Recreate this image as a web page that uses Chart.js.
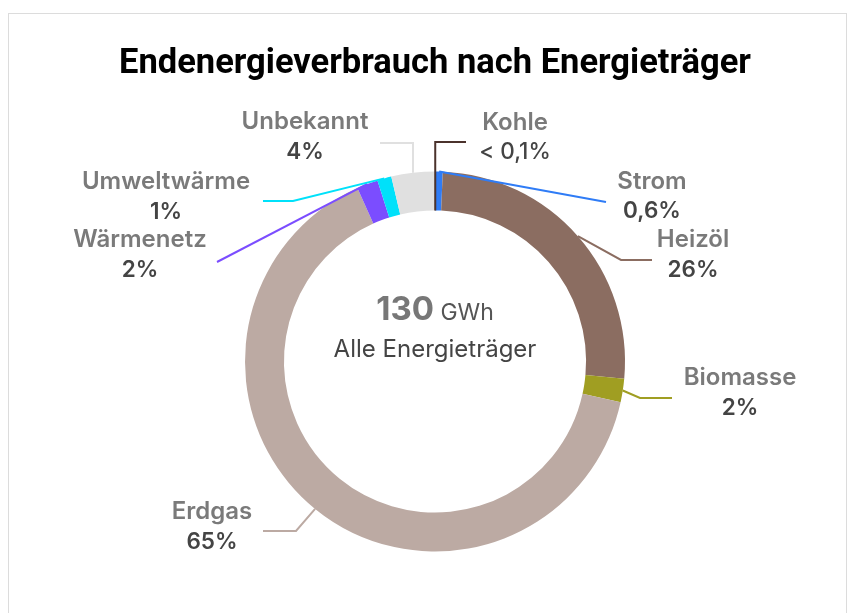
<!DOCTYPE html>
<html lang="de">
<head>
<meta charset="UTF-8">
<title>Endenergieverbrauch nach Energieträger</title>
<script src="https://cdn.jsdelivr.net/npm/chart.js@4"></script>
<style>
  body { margin: 0; background: #fff; }
  .frame { position: absolute; left: 8px; top: 13px; width: 837px; height: 700px; border: 1px solid #dcdcdc; }
  .wrap { position: absolute; left: 0; top: 0; width: 854px; height: 613px; }
</style>
</head>
<body>
<div class="frame"></div>
<div class="wrap"><canvas id="chart"></canvas></div>
<script>
// Data
const categories = ['Kohle', 'Strom', 'Heizöl', 'Biomasse', 'Erdgas', 'Wärmenetz', 'Umweltwärme', 'Unbekannt'];
const shares = [0.05, 0.6, 25.8, 2.0, 64.9, 1.8, 1.2, 3.7];
const shareLabels = ['< 0,1%', '0,6%', '26%', '2%', '65%', '2%', '1%', '4%'];
const totalValue = '130';
const totalUnit = 'GWh';
const totalCaption = 'Alle Energieträger';

const colors = ['#4b322c', '#2f7cf6', '#8b6d61', '#a09e22', '#bcaaa3', '#7b4dff', '#00e1fa', '#e0e0e0'];

// label layout, offsets from the doughnut centre (px)
// vert: leader goes straight up first, elbow: bend point, end: end of leader, text: centre of name line
const labelLayout = [
  { from: 'inner', vert: true, end: [31, -219.5], text: [80, -239] },
  { end: [171, -159.5], text: [217, -180] },
  { elbow: [186, -101.5], end: [217, -101.5], text: [258, -121.5] },
  { elbow: [205, 36.5], end: [237, 36.5], text: [305, 16.5] },
  { elbow: [-139, 169.5], end: [-172, 169.5], text: [-223, 150.5] },
  { end: [-218, -99.5], text: [-295, -121.5] },
  { elbow: [-142, -160.5], end: [-172, -160.5], text: [-269, -179.5] },
  { vert: true, end: [-55, -218.5], text: [-130, -239.5] }
];

const labelPlugin = {
  id: 'labels',
  afterDraw(chart) {
    const ctx = chart.ctx;
    const meta = chart.getDatasetMeta(0);
    ctx.save();
    meta.data.forEach((arc, i) => {
      const p = arc.getProps(['x', 'y', 'startAngle', 'endAngle', 'innerRadius', 'outerRadius'], true);
      const lay = labelLayout[i];
      const mid = (p.startAngle + p.endAngle) / 2;
      const r = lay.from === 'inner' ? p.innerRadius : p.outerRadius;
      const sx = p.x + Math.cos(mid) * r;
      const sy = p.y + Math.sin(mid) * r;
      const ex = p.x + lay.end[0], ey = p.y + lay.end[1];
      ctx.beginPath();
      ctx.strokeStyle = colors[i];
      ctx.lineWidth = 2;
      ctx.moveTo(sx, sy);
      if (lay.vert) ctx.lineTo(sx, ey);
      else if (lay.elbow) ctx.lineTo(p.x + lay.elbow[0], p.y + lay.elbow[1]);
      ctx.lineTo(ex, ey);
      ctx.stroke();

      const tx = p.x + lay.text[0], ty = p.y + lay.text[1];
      ctx.textAlign = 'center';
      ctx.textBaseline = 'middle';
      ctx.font = '600 24px Inter';
      ctx.fillStyle = '#7a7a7a';
      ctx.fillText(categories[i], tx, ty);
      ctx.font = (i === 0 ? '500' : '600') + ' 22.5px Inter';
      ctx.fillStyle = '#444';
      ctx.fillText(shareLabels[i], tx, ty + 30);
    });

    // centre text
    const cx = meta.data[0].x, cy = meta.data[0].y;
    ctx.textBaseline = 'alphabetic';
    ctx.font = '700 33px Inter';
    const w1 = ctx.measureText(totalValue).width;
    ctx.font = '400 23px Inter';
    const w2 = ctx.measureText(' ' + totalUnit).width;
    const x0 = cx - (w1 + w2) / 2;
    ctx.textAlign = 'left';
    ctx.font = '700 33px Inter';
    ctx.fillStyle = '#777';
    ctx.fillText(totalValue, x0, cy - 42);
    ctx.font = '400 23px Inter';
    ctx.fillStyle = '#555';
    ctx.fillText(' ' + totalUnit, x0 + w1, cy - 42);
    ctx.textAlign = 'center';
    ctx.textBaseline = 'middle';
    ctx.font = '400 24px Inter';
    ctx.fillStyle = '#444';
    ctx.fillText(totalCaption, cx, cy - 12);
    ctx.restore();
  }
};

new Chart(document.getElementById('chart'), {
  type: 'doughnut',
  data: {
    labels: categories,
    datasets: [{
      data: shares,
      backgroundColor: colors,
      borderWidth: 0
    }]
  },
  options: {
    responsive: true,
    maintainAspectRatio: false,
    animation: false,
    cutout: '79.5%',
    layout: { padding: { left: 16, right: 0, top: 0, bottom: 61.5 } },
    plugins: {
      legend: { display: false },
      tooltip: { enabled: false },
      title: {
        display: true,
        text: 'Endenergieverbrauch nach Energieträger',
        color: '#000',
        font: { family: 'Roboto', size: 34.5, weight: '700' },
        padding: { top: 43.3, bottom: 86.8 }
      }
    }
  },
  plugins: [labelPlugin]
});
</script>
</body>
</html>
